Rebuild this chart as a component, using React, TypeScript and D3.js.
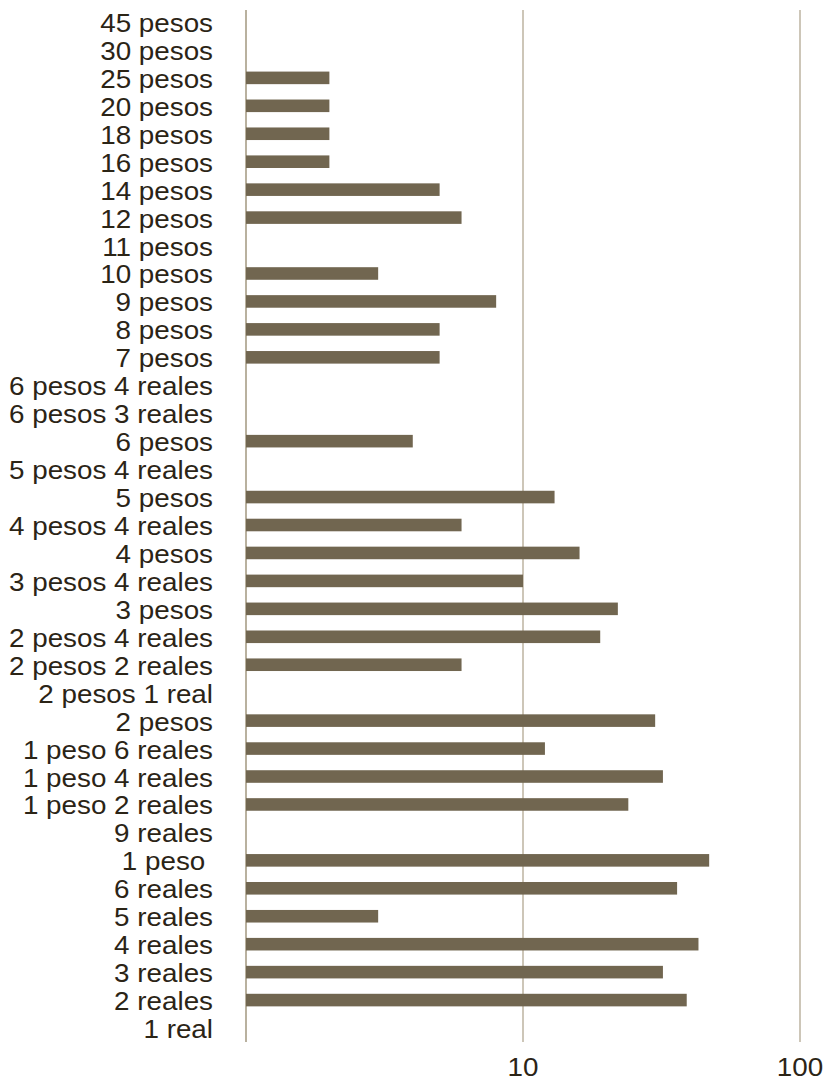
import * as d3 from 'd3';

// categories, top to bottom
const categories = [
  '45 pesos', '30 pesos', '25 pesos', '20 pesos', '18 pesos', '16 pesos', '14 pesos',
  '12 pesos', '11 pesos', '10 pesos', '9 pesos', '8 pesos', '7 pesos',
  '6 pesos 4 reales', '6 pesos 3 reales', '6 pesos', '5 pesos 4 reales', '5 pesos',
  '4 pesos 4 reales', '4 pesos', '3 pesos 4 reales', '3 pesos', '2 pesos 4 reales',
  '2 pesos 2 reales', '2 pesos 1 real', '2 pesos', '1 peso 6 reales', '1 peso 4 reales',
  '1 peso 2 reales', '9 reales', '1 peso ', '6 reales', '5 reales', '4 reales',
  '3 reales', '2 reales', '1 real',
];
// counts (0 = no bar drawn)
const counts = [
  0, 0, 2, 2, 2, 2, 5,
  6, 0, 3, 8, 5, 5,
  0, 0, 4, 0, 13,
  6, 16, 10, 22, 19,
  6, 0, 30, 12, 32,
  24, 0, 47, 36, 3, 43,
  32, 39, 1,
];
const tickValues = [10, 100];

export default function App() {
  const W = 826;
  const H = 1081;
  const x = d3.scaleLog().domain([1, 100]).range([246, 800]);
  const y = d3.scaleBand<string>()
    .domain(categories)
    .range([8, 1042])
    .paddingInner(0.55)
    .paddingOuter(0.275);
  const bw = y.bandwidth();
  const font = '"Liberation Sans", Arial, Helvetica, sans-serif';
  const sx = 1.07; // reference text is a little wider than the font

  return (
    <svg width={W} height={H} style={{ position: 'absolute', left: 0, top: 0, background: '#fff' }}>
      {/* grid lines */}
      {[1, 10, 100].map((v) => (
        <line key={v} x1={x(v)} x2={x(v)} y1={10} y2={1042}
          stroke={v === 1 ? '#b9b19f' : '#cdc6b8'} strokeWidth={2} />
      ))}
      {/* bars */}
      {categories.map((c, i) => counts[i] > 1 ? (
        <rect key={c} x={x(1)} y={y(c)} width={x(counts[i]) - x(1)} height={bw} fill="#716650" />
      ) : null)}
      {/* category labels */}
      {categories.map((c) => (
        <text key={c} transform={`translate(213,${(y(c) || 0) + bw / 2 + 10}) scale(${sx},1)`} textAnchor="end"
          fontFamily={font} fontSize={26} fill="#2b2416" style={{ whiteSpace: 'pre' }}>{c}</text>
      ))}
      {/* x tick labels */}
      {tickValues.map((v) => (
        <text key={v} transform={`translate(${x(v)},1076) scale(${sx},1)`} textAnchor="middle"
          fontFamily={font} fontSize={26} fill="#2b2416">{v}</text>
      ))}
    </svg>
  );
}
